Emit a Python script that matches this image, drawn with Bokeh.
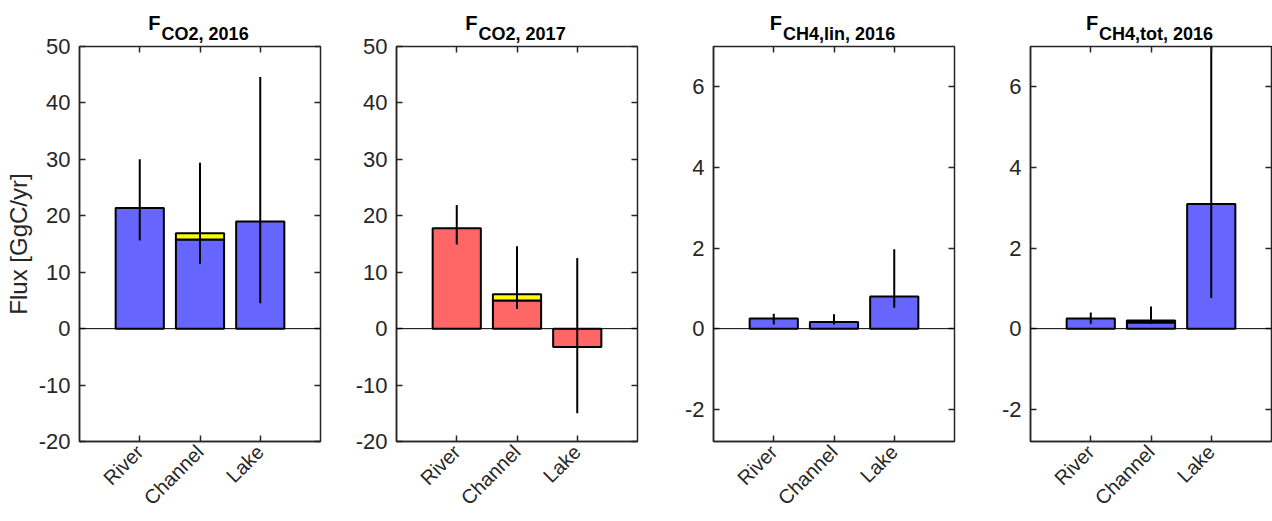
import math
from bokeh.plotting import figure
from bokeh.layouts import row
from bokeh.models import Range1d, FixedTicker, LinearAxis, Span, Title, ColumnDataSource
from bokeh.embed import file_html
from bokeh.resources import INLINE

# ---------------- data ----------------
categories = ["River", "Channel", "Lake"]
x_pos = [1, 2, 3]

ticks_co2 = [-20, -10, 0, 10, 20, 30, 40, 50]
ticks_ch4 = [-2, 0, 2, 4, 6]

title_sub = ["CO2, 2016", "CO2, 2017", "CH4,lin, 2016", "CH4,tot, 2016"]

co2_2016_base = [21.4, 15.8, 19.0]
co2_2016_extra = [0.0, 1.1, 0.0]
co2_2016_err_lo = [15.6, 11.5, 4.5]
co2_2016_err_hi = [30.0, 29.4, 44.6]

co2_2017_base = [17.8, 5.0, -3.25]
co2_2017_extra = [0.0, 1.1, 0.0]
co2_2017_err_lo = [14.9, 3.5, -15.0]
co2_2017_err_hi = [21.9, 14.6, 12.5]

ch4_lin_base = [0.25, 0.165, 0.80]
ch4_lin_extra = [0.0, 0.0, 0.0]
ch4_lin_err_lo = [0.10, 0.10, 0.52]
ch4_lin_err_hi = [0.37, 0.36, 1.97]

ch4_tot_base = [0.25, 0.15, 3.09]
ch4_tot_extra = [0.0, 0.05, 0.0]
ch4_tot_err_lo = [0.12, 0.12, 0.76]
ch4_tot_err_hi = [0.40, 0.55, 7.5]

# ---------------- style ----------------
BLUE = "#6666ff"
RED = "#ff6666"
YELLOW = "#ffff00"
AX = "#262626"
FONT = "Liberation Sans"
FW = 241
TOP, BOTTOM = 46, 80
H = 521

EM = {"C": .722, "O": .778, "H": .722, ",": .278, " ": .278, "l": .278, "i": .278,
      "n": .611, "t": .333, "o": .611, "F": .611}
def text_w(s, px):
    return sum(EM.get(c, .556) for c in s) * px

F_PX, SUB_PX = 20, 18


def make_panel(sub, base, extra, lo, hi, color, yr, ticks, left_border, right_border, ylabel):
    p = figure(width=left_border + FW + right_border, height=H,
               x_range=Range1d(0, 4), y_range=Range1d(*yr),
               output_backend="svg", toolbar_location=None,
               min_border_left=left_border, min_border_right=right_border,
               min_border_top=TOP, min_border_bottom=BOTTOM)
    p.xgrid.visible = False
    p.ygrid.visible = False
    p.background_fill_color = "white"
    p.border_fill_color = "white"
    p.outline_line_color = AX
    p.outline_line_width = 1.5

    src = ColumnDataSource(dict(x=x_pos, top=base, lo=lo, hi=hi))
    p.vbar(x="x", bottom=0, top="top", width=0.8, source=src,
           fill_color=color, line_color="black", line_width=2)
    ex = [(x, b, b + e) for x, b, e in zip(x_pos, base, extra) if e > 0]
    if ex:
        esrc = ColumnDataSource(dict(x=[t[0] for t in ex], b=[t[1] for t in ex], t=[t[2] for t in ex]))
        p.vbar(x="x", bottom="b", top="t", width=0.8, source=esrc,
               fill_color=YELLOW, line_color="black", line_width=2)
    p.add_layout(Span(location=0, dimension="width", line_color="black", line_width=1))
    p.segment(x0="x", y0="lo", x1="x", y1="hi", source=src, line_color="black", line_width=2)

    # axes
    yt = FixedTicker(ticks=ticks, minor_ticks=[])
    xt = FixedTicker(ticks=x_pos, minor_ticks=[])
    ya = p.left[0]
    ya.ticker = yt
    ya.major_label_overrides = {t: str(t) for t in ticks}
    xa = p.below[0]
    xa.ticker = xt
    xa.major_label_overrides = {x: c for x, c in zip(x_pos, categories)}
    xa.major_label_orientation = math.pi / 4
    for a in (ya, xa):
        a.major_tick_in = 6
        a.major_tick_out = 0
        a.minor_tick_line_color = None
        a.axis_line_color = AX
        a.axis_line_width = 1.5
        a.major_tick_line_color = AX
        a.major_tick_line_width = 1.5
        a.major_label_text_font = FONT
        a.major_label_text_color = AX
    ya.major_label_text_font_size = "22px"
    xa.major_label_text_font_size = "20px"
    ya.major_label_standoff = 9
    xa.major_label_standoff = 7
    if ylabel:
        ya.axis_label = ylabel
        ya.axis_label_text_font = FONT
        ya.axis_label_text_font_size = "24px"
        ya.axis_label_text_font_style = "normal"
        ya.axis_label_text_color = AX
        ya.axis_label_standoff = 4

    ra = LinearAxis(ticker=yt)
    p.add_layout(ra, "right")
    ta = LinearAxis(ticker=xt)
    p.add_layout(ta, "above")
    for a in (ra, ta):
        a.major_tick_in = 6
        a.major_tick_out = 0
        a.minor_tick_line_color = None
        a.axis_line_color = None
        a.major_tick_line_color = AX
        a.major_tick_line_width = 1.5
        a.major_label_text_font_size = "1px"
        a.major_label_text_color = None
        a.major_label_standoff = 0

    # title  F_{sub} as two stacked titles
    wf = text_w("F", F_PX)
    ws = text_w(sub, SUB_PX)
    jx = FW / 2 + (wf - ws) / 2 - 2
    p.add_layout(Title(text=sub, align="left", offset=jx + 1, standoff=6,
                       text_font=FONT, text_font_size=f"{SUB_PX}px", text_font_style="bold",
                       text_color="black"), "above")
    p.add_layout(Title(text="F", align="left", offset=jx - wf, standoff=-30,
                       text_font=FONT, text_font_size=f"{F_PX}px", text_font_style="bold",
                       text_color="black"), "above")
    return p


p1 = make_panel(title_sub[0], co2_2016_base, co2_2016_extra, co2_2016_err_lo, co2_2016_err_hi,
                BLUE, (-20, 50), ticks_co2, 79, 6, "Flux [GgC/yr]")
p2 = make_panel(title_sub[1], co2_2017_base, co2_2017_extra, co2_2017_err_lo, co2_2017_err_hi,
                RED, (-20, 50), ticks_co2, 70, 6, None)
p3 = make_panel(title_sub[2], ch4_lin_base, ch4_lin_extra, ch4_lin_err_lo, ch4_lin_err_hi,
                BLUE, (-2.8, 7), ticks_ch4, 70, 6, None)
p4 = make_panel(title_sub[3], ch4_tot_base, ch4_tot_extra, ch4_tot_err_lo, ch4_tot_err_hi,
                BLUE, (-2.8, 7), ticks_ch4, 70, 1, None)

layout = row(p1, p2, p3, p4)
open("out.html", "w").write(file_html(layout, INLINE))
